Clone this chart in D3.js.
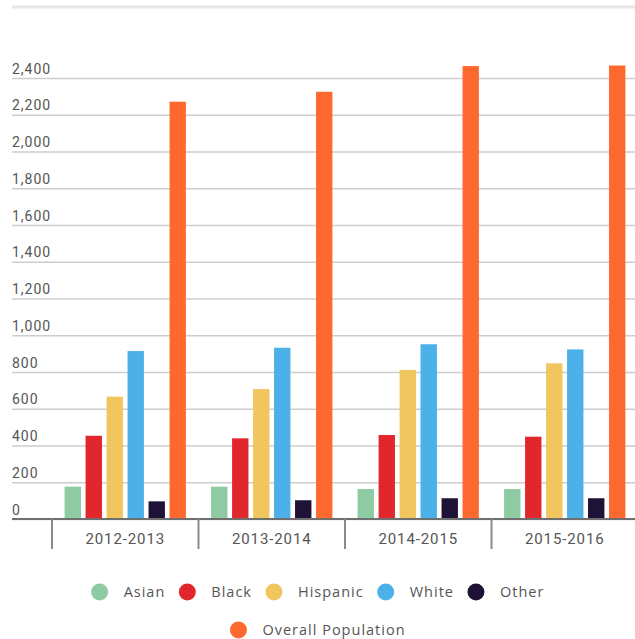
<!DOCTYPE html>
<html>
<head>
<meta charset="utf-8">
<script src="https://cdn.jsdelivr.net/npm/d3@7"></script>
<style>
	body { margin: 0; background: #fff; }
	svg { display: block; }
</style>
</head>
<body>
<svg id="chart" width="635" height="639"></svg>
<script>
const years = ['2012-2013', '2013-2014', '2014-2015', '2015-2016']
const groups = ['Asian', 'Black', 'Hispanic', 'White', 'Other', 'Overall Population']
const asian = [176, 176, 163, 163]
const black = [453, 439, 457, 448]
const hispanic = [666, 707, 811, 847]
const white = [914, 932, 951, 923]
const other = [96, 102, 113, 113]
const overall = [2271, 2325, 2465, 2468]
const yTicks = [0, 200, 400, 600, 800, 1000, 1200, 1400, 1600, 1800, 2000, 2200, 2400]
const colors = ['#8ecaa2', '#e1262c', '#f2c65e', '#4cb1e9', '#1e1236', '#ff6930']

const seriesValues = [asian, black, hispanic, white, other, overall]
const rows = years.map((yr, i) => ({
	year: yr,
	values: groups.map((g, j) => ({ key: g, value: seriesValues[j][i] }))
}))

const svg = d3.select('#chart')

// top rule
svg.append('line')
	.attr('x1', 12).attr('x2', 635)
	.attr('y1', 7).attr('y2', 7)
	.style('stroke', '#e6e6e6')
	.style('stroke-width', 3)

const x0 = d3.scaleBand().domain(years).range([52, 638]).padding(0)
const x1 = d3.scaleBand().domain(groups).range([0, x0.bandwidth()]).paddingInner(0.22).paddingOuter(0.6)
const y = d3.scaleLinear().domain([0, 2400]).range([519, 78])

// gridlines + labels
const yAxis = svg.append('g')
	.attr('transform', 'translate(12,0)')
	.call(d3.axisRight(y).tickValues(yTicks).tickSize(623).tickFormat(d3.format(',')))

yAxis.select('.domain').remove()
yAxis.selectAll('.tick line')
	.style('stroke', '#cdcdcd')
	.style('stroke-width', 1.5)
yAxis.selectAll('.tick text')
	.attr('x', 0)
	.attr('dy', -5)
	.attr('text-anchor', 'start')
	.style('font-family', 'Roboto, sans-serif')
	.style('font-size', '14px')
	.style('letter-spacing', '1px')
	.style('fill', '#555')

// bars
svg.append('g')
	.selectAll('g')
	.data(rows)
	.join('g')
	.attr('transform', (d) => `translate(${x0(d.year)},0)`)
	.selectAll('rect')
	.data((d) => d.values)
	.join('rect')
	.attr('x', (d) => x1(d.key))
	.attr('width', x1.bandwidth())
	.attr('y', (d) => y(d.value))
	.attr('height', (d) => y(0) - y(d.value))
	.style('fill', (d, i) => colors[i])

// baseline
svg.append('line')
	.attr('x1', 12).attr('x2', 635)
	.attr('y1', y(0)).attr('y2', y(0))
	.style('stroke', '#6f6f6f')
	.style('stroke-width', 2)

// x axis labels
const xAxis = svg.append('g')
	.attr('transform', `translate(0,${y(0)})`)
	.call(d3.axisBottom(x0).tickSize(0).tickPadding(14))
xAxis.select('.domain').remove()
xAxis.selectAll('.tick text')
	.style('font-family', 'Roboto, sans-serif')
	.style('font-size', '15px')
	.style('letter-spacing', '0.9px')
	.style('fill', '#555')

// band dividers
svg.append('g')
	.selectAll('line')
	.data(years)
	.join('line')
	.attr('x1', (d) => x0(d)).attr('x2', (d) => x0(d))
	.attr('y1', y(0)).attr('y2', y(0) + 30)
	.style('stroke', '#8a8a8a')
	.style('stroke-width', 2)

// legend
const legendRows = [groups.slice(0, 5), groups.slice(5)]
const legendY = [592, 630]
legendRows.forEach((items, r) => {
	const lg = svg.append('g')
	let cursor = 0
	items.forEach((name) => {
		const idx = groups.indexOf(name)
		const item = lg.append('g').attr('transform', `translate(${cursor},0)`)
		item.append('circle')
			.attr('cx', 9).attr('cy', 0).attr('r', 8.5)
			.style('fill', colors[idx])
		const t = item.append('text')
			.attr('x', 33).attr('y', 5)
			.style('font-family', '"Open Sans", sans-serif')
			.style('font-size', '14.5px')
			.style('letter-spacing', '1px')
			.style('fill', '#555')
			.text(name)
		cursor += 33 + t.node().getComputedTextLength() + 13
	})
	const w = cursor - 13
	lg.attr('transform', `translate(${(635 - w) / 2},${legendY[r]})`)
})
</script>
</body>
</html>
